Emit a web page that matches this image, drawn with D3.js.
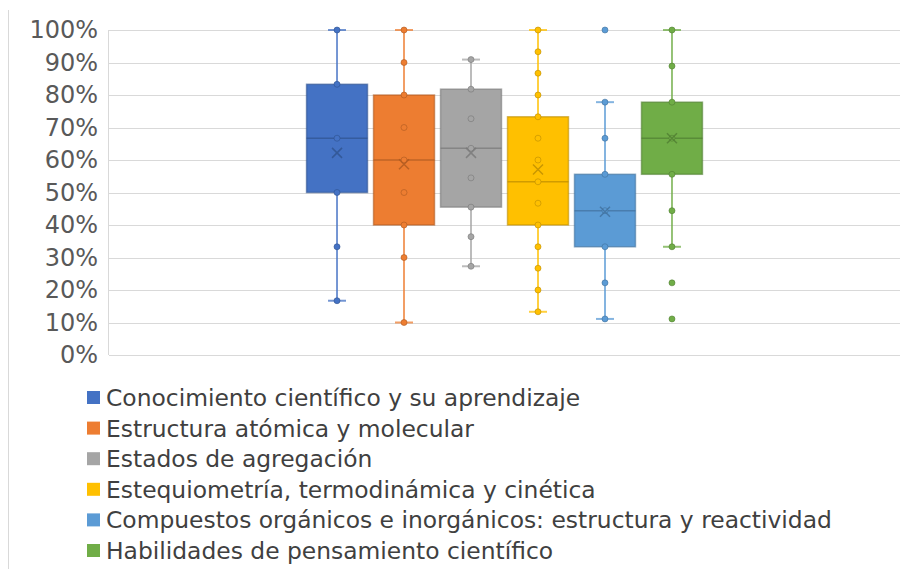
<!DOCTYPE html>
<html>
<head>
<meta charset="utf-8">
<title>Box plot</title>
<style>
  body { margin: 0; background: #fff; }
  svg { display: block; font-family: "DejaVu Sans", sans-serif; }
  .grid line { stroke: #d9d9d9; stroke-width: 1; shape-rendering: crispEdges; }
  .grid path { stroke: none; }
  .tick text { fill: #595959; }
</style>
</head>
<body>
<svg width="900" height="569"></svg>
<script src="https://d3js.org/d3.v7.min.js"></script>
<script>
// data (percent)
var categories = [
  "Conocimiento científico y su aprendizaje",
  "Estructura atómica y molecular",
  "Estados de agregación",
  "Estequiometría, termodinámica y cinética",
  "Compuestos orgánicos e inorgánicos: estructura y reactividad",
  "Habilidades de pensamiento científico"
];
var colors = ["#4472c4", "#ed7d31", "#a5a5a5", "#ffc000", "#5b9bd5", "#70ad47"];
var darker = ["#2f528f", "#ae5a21", "#787878", "#bc8c00", "#41719c", "#507e32"];

var whiskerLow  = [16.7, 10, 27.3, 13.3, 11.1, 33.3];
var q1          = [50, 40, 45.5, 40, 33.3, 55.6];
var median      = [66.7, 60, 63.6, 53.3, 44.4, 66.7];
var q3          = [83.3, 80, 81.8, 73.3, 55.6, 77.8];
var whiskerHigh = [100, 100, 90.9, 100, 77.8, 100];
var means       = [62.2, 58.7, 62.2, 57.1, 44.1, 66.7];
var points = [
  [100, 83.3, 66.7, 50, 33.3, 16.7],
  [100, 90, 80, 70, 60, 50, 40, 30, 10],
  [90.9, 81.8, 72.7, 63.6, 54.5, 45.5, 36.4, 27.3],
  [100, 93.3, 86.7, 80, 73.3, 66.7, 60, 53.3, 46.7, 40, 33.3, 26.7, 20, 13.3],
  [100, 77.8, 66.7, 55.6, 44.4, 33.3, 22.2, 11.1],
  [100, 88.9, 77.8, 66.7, 55.6, 44.4, 33.3, 22.2, 11.1]
];
var yTicks = [0, 10, 20, 30, 40, 50, 60, 70, 80, 90, 100];

var svg = d3.select("svg");
var plot = {left: 109, right: 900, top: 30, bottom: 355};

var y = d3.scaleLinear().domain([0, 100]).range([plot.bottom, plot.top]);
var x0 = d3.scaleBand().domain(["all"]).range([plot.left, plot.right]).paddingOuter(0.484);
var x1 = d3.scaleBand().domain(categories).range([0, x0.bandwidth()])
  .paddingInner(0.09).paddingOuter(0.045);

// chart frame left edge
svg.append("line")
  .attr("x1", 8.5).attr("x2", 8.5).attr("y1", 10).attr("y2", 569)
  .attr("stroke", "#d9d9d9");

// gridlines + labels
var axis = svg.append("g")
  .attr("class", "grid")
  .attr("transform", "translate(" + plot.left + ",0)")
  .call(d3.axisLeft(y).tickValues(yTicks)
    .tickSize(-(plot.right - plot.left))
    .tickPadding(11)
    .tickFormat(function(d) { return d + "%"; }));
axis.selectAll(".tick text").attr("font-size", 24).attr("font-family", "DejaVu Sans, sans-serif");

svg.append("line")
  .attr("x1", plot.left - 0.5).attr("x2", plot.left - 0.5)
  .attr("y1", plot.top).attr("y2", plot.bottom)
  .attr("stroke", "#d9d9d9");

var boxes = svg.append("g")
  .attr("transform", "translate(" + x0("all") + ",0)")
  .selectAll("g")
  .data(categories)
  .enter().append("g")
  .attr("transform", function(d) { return "translate(" + x1(d) + ",0)"; });

var bw = x1.bandwidth(), cx = bw / 2, capW = 18;

// whiskers
boxes.append("line")
  .attr("x1", cx).attr("x2", cx)
  .attr("y1", function(d, i) { return y(whiskerHigh[i]); })
  .attr("y2", function(d, i) { return y(q3[i]); })
  .attr("stroke", function(d, i) { return colors[i]; })
  .attr("stroke-opacity", 0.75).attr("stroke-width", 2);
boxes.append("line")
  .attr("x1", cx).attr("x2", cx)
  .attr("y1", function(d, i) { return y(q1[i]); })
  .attr("y2", function(d, i) { return y(whiskerLow[i]); })
  .attr("stroke", function(d, i) { return colors[i]; })
  .attr("stroke-opacity", 0.75).attr("stroke-width", 2);
[whiskerHigh, whiskerLow].forEach(function(arr) {
  boxes.append("line")
    .attr("x1", cx - capW / 2).attr("x2", cx + capW / 2)
    .attr("y1", function(d, i) { return y(arr[i]); })
    .attr("y2", function(d, i) { return y(arr[i]); })
    .attr("stroke", function(d, i) { return colors[i]; })
    .attr("stroke-opacity", 0.75).attr("stroke-width", 2);
});

// box
boxes.append("rect")
  .attr("x", 0).attr("width", bw)
  .attr("y", function(d, i) { return y(q3[i]); })
  .attr("height", function(d, i) { return y(q1[i]) - y(q3[i]); })
  .attr("fill", function(d, i) { return colors[i]; })
  .attr("stroke", function(d, i) { return darker[i]; })
  .attr("stroke-opacity", 0.6).attr("stroke-width", 1.5);

// median
boxes.append("line")
  .attr("x1", 0).attr("x2", bw)
  .attr("y1", function(d, i) { return y(median[i]); })
  .attr("y2", function(d, i) { return y(median[i]); })
  .attr("stroke", function(d, i) { return darker[i]; })
  .attr("stroke-opacity", 0.7).attr("stroke-width", 1.5);

// points
boxes.each(function(d, i) {
  d3.select(this).selectAll("circle")
    .data(points[i])
    .enter().append("circle")
    .attr("cx", cx)
    .attr("cy", function(v) { return y(v); })
    .attr("r", 3)
    .attr("fill", colors[i])
    .attr("stroke", darker[i])
    .attr("stroke-opacity", 0.6)
    .attr("stroke-width", 1);
});

// mean marker
boxes.append("path")
  .attr("transform", function(d, i) { return "translate(" + cx + "," + y(means[i]) + ")"; })
  .attr("d", "M-5,-5L5,5M-5,5L5,-5")
  .attr("stroke", function(d, i) { return darker[i]; })
  .attr("stroke-opacity", 0.8)
  .attr("stroke-width", 1.5)
  .attr("fill", "none");

// legend
var legend = svg.append("g")
  .selectAll("g")
  .data(categories)
  .enter().append("g")
  .attr("transform", function(d, i) { return "translate(87," + (397.5 + i * 30.6) + ")"; });

legend.append("rect")
  .attr("x", 0).attr("y", -6.5)
  .attr("width", 13).attr("height", 13)
  .attr("fill", function(d, i) { return colors[i]; });

legend.append("text")
  .attr("x", 19)
  .attr("dy", "0.36em")
  .attr("font-size", 23.4)
  .attr("fill", "#404040")
  .text(function(d) { return d; });
</script>
</body>
</html>
